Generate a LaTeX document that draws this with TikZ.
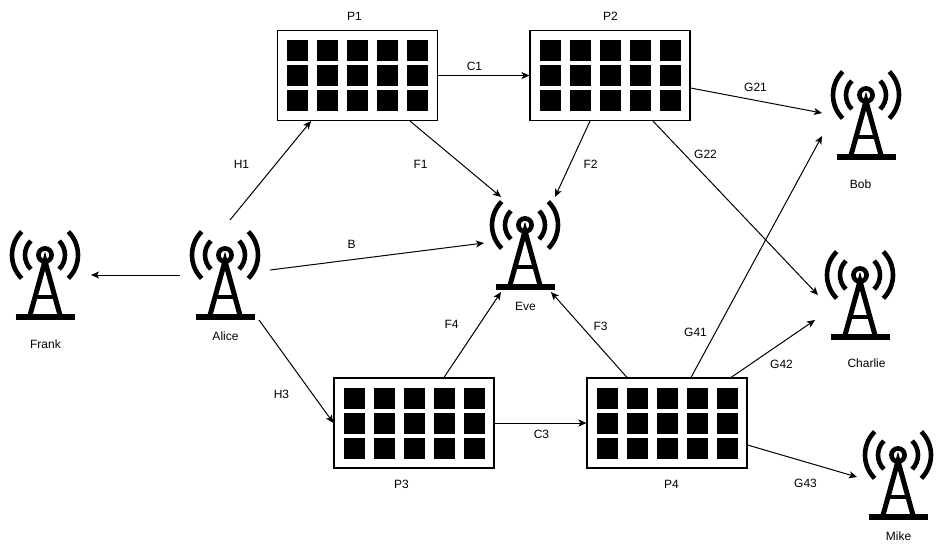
\documentclass[tikz,border=0pt]{standalone}
\usepackage{fontspec}
\setmainfont{Liberation Sans}
\usetikzlibrary{arrows.meta}

\tikzset{
  flow/.style={line width=1pt, -{Stealth[length=8pt,width=7pt,inset=2pt]}},
  lbl/.style={inner sep=0pt, font=\fontsize{12}{14}\selectfont},
  unitbox/.style={draw, line width=1.1pt, minimum width=160pt, minimum height=90pt, inner sep=0pt},
  towerbox/.style={minimum width=70pt, minimum height=90pt, inner sep=0pt},
  cell/.style={fill=black, minimum size=21pt, inner sep=0pt},
}

% tower icon around its mast head
\newcommand{\towerat}[2]{%
  \begin{scope}[shift={(#1,#2)}, line width=4.6pt]
    \draw (0,0) circle (6.6);
    \draw (-33*0.707,-33*0.707) arc[start angle=225, end angle=135, radius=33];
    \draw (33*0.707,-33*0.707) arc[start angle=-45, end angle=45, radius=33];
    \draw (-20*0.707,-20*0.707) arc[start angle=225, end angle=135, radius=20];
    \draw (20*0.707,-20*0.707) arc[start angle=-45, end angle=45, radius=20];
    \draw[line width=5pt, line join=miter] (-15.5,62) -- (0,6) -- (15.5,62);
    \draw (-9,42) -- (9,42);
    \draw[line width=5.6pt] (-29.5,62) -- (29.5,62);
  \end{scope}
}

\begin{document}
\begin{tikzpicture}[x=1pt, y=-1pt]
  \useasboundingbox[fill=white] (0,0) rectangle (943,550);

  % the four processing units
  \foreach \nm/\xx/\yy in {pOne/357.5/75.5, pTwo/610/75.5, pThree/414/423, pFour/667/423} {
    \node[unitbox] (\nm) at (\xx,\yy) {};
    \foreach \cx in {-60,-30,0,30,60}
      \foreach \cy in {-25,0,25}
        \node[cell] (\nm c\cx r\cy) at (\xx+\cx,\yy+\cy) {};
  }

  % the radio towers
  \foreach \nm/\xx/\yy in {frank/45/255, alice/225/255, eve/525/225, bob/866/95, charlie/860/275, mike/898/455} {
    \node[towerbox] (\nm) at (\xx,\yy+15) {};
    \towerat{\xx}{\yy}
  }

  % labels
  \foreach \nm/\xx/\yy in {P1/354.5/16, P2/610.5/16, P3/401.5/484, P4/671.5/484,
      Alice/225.5/336, Frank/45.5/344, Bob/860.5/184, Charlie/866.5/363, Mike/898.5/536, Eve/525.5/306,
      C1/474.5/66, C3/541.5/434, H1/241.5/164, H3/281.5/394, B/351.5/244,
      F1/420.5/164, F2/590.5/164, F3/600.5/326, F4/451.5/324,
      G21/755.5/87, G22/705.5/154, G41/695.5/332, G42/781.5/364, G43/805.5/483}
    \node[lbl] (lbl\nm) at (\xx,\yy) {\nm};

  % connectors (shifts are the offsets from the node centres)
  \draw[flow] ([shift={(5,-50)}]alice.center) -- ([xshift=-46.5pt]pOne.south);
  \draw[flow] ([shift={(45,0)}]alice.center) -- ([shift={(-41,3)}]eve.center);
  \draw[flow] ([shift={(-45,5)}]alice.center) -- ([shift={(46,5)}]frank.center);
  \draw[flow] ([shift={(34,50)}]alice.center) -- (pThree.west);
  \draw[flow] (pOne.east) -- (pTwo.west);
  \draw[flow] ([xshift=52.5pt]pOne.south) -- ([shift={(-24,-43)}]eve.center);
  \draw[flow] ([xshift=-20pt]pTwo.south) -- ([shift={(30,-43)}]eve.center);
  \draw[flow] ([yshift=-12.5pt]pTwo.east) -- ([shift={(-44,3)}]bob.center);
  \draw[flow] ([xshift=43pt]pTwo.south) -- ([shift={(-42,5)}]charlie.center);
  \draw[flow] ([xshift=30pt]pThree.north) -- ([shift={(-24,52)}]eve.center);
  \draw[flow] (pThree.east) -- (pFour.west);
  \draw[flow] ([xshift=-40pt]pFour.north) -- ([shift={(26,52)}]eve.center);
  \draw[flow] ([xshift=24pt]pFour.north) -- ([shift={(-44,26)}]bob.center);
  \draw[flow] ([xshift=64pt]pFour.north) -- ([shift={(-45,30)}]charlie.center);
  \draw[flow] ([yshift=-22pt]pFour.east) -- ([shift={(-41,7)}]mike.center);
\end{tikzpicture}
\end{document}
